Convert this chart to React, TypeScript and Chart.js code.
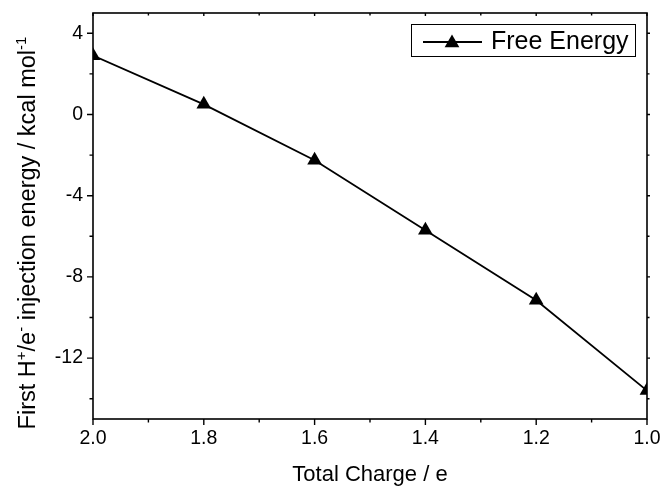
import React, { useEffect, useRef } from 'react';
import { Chart, registerables } from 'chart.js';

Chart.register(...registerables);

const totalCharge = [2.0, 1.8, 1.6, 1.4, 1.2, 1.0];
const freeEnergy = [2.9, 0.5, -2.25, -5.7, -9.15, -13.6];
const xMajorTicks = [2.0, 1.8, 1.6, 1.4, 1.2, 1.0];
const xMinorTicks = [1.9, 1.7, 1.5, 1.3, 1.1];
const yMajorTicks = [4, 0, -4, -8, -12];
const yMinorTicks = [2, -2, -6, -10, -14];
const seriesName = 'Free Energy';
const xAxisTitle = 'Total Charge / e';
const yAxisTitleParts = [
  { text: 'First H', sup: false },
  { text: '+', sup: true },
  { text: '/e', sup: false },
  { text: '-', sup: true },
  { text: ' injection energy / kcal mol', sup: false },
  { text: '-1', sup: true },
];

const FONT = '"Liberation Sans", Arial, Helvetica, sans-serif';

function drawTriangle(ctx: CanvasRenderingContext2D, x: number, y: number, r: number) {
  ctx.beginPath();
  for (let i = 0; i < 3; i++) {
    const ang = -Math.PI / 2 + (i * 2 * Math.PI) / 3;
    const px = x + Math.cos(ang) * r;
    const py = y + Math.sin(ang) * r;
    if (i === 0) ctx.moveTo(px, py);
    else ctx.lineTo(px, py);
  }
  ctx.closePath();
  ctx.fill();
}

const framePlugin = {
  id: 'originFrame',
  afterDatasetsDraw(chart: any) {
    const { ctx, chartArea: a } = chart;
    ctx.save();
    const left = a.right - 236;
    const top = a.top + 11;
    ctx.fillStyle = '#fff';
    ctx.fillRect(left, top, 224, 32);
    ctx.strokeStyle = '#000';
    ctx.lineWidth = 1;
    ctx.strokeRect(left + 0.5, top + 0.5, 224, 32);
    ctx.lineWidth = 1.8;
    ctx.beginPath();
    ctx.moveTo(left + 12, top + 18);
    ctx.lineTo(left + 71, top + 18);
    ctx.stroke();
    ctx.fillStyle = '#000';
    drawTriangle(ctx, left + 41, top + 19, 8.5);
    ctx.font = `25px ${FONT}`;
    ctx.textBaseline = 'alphabetic';
    ctx.textAlign = 'left';
    ctx.fillText(chart.data.datasets[0].label, left + 80, top + 25);
    ctx.restore();
  },
  afterDraw(chart: any) {
    const { ctx, chartArea: a, scales } = chart;
    const xs = scales.x;
    const ys = scales.y;
    ctx.save();
    ctx.strokeStyle = '#000';
    ctx.lineWidth = 1.6;
    ctx.strokeRect(a.left, a.top, a.right - a.left, a.bottom - a.top);
    ctx.lineWidth = 1.4;
    ctx.beginPath();
    const seg = (x1: number, y1: number, x2: number, y2: number) => {
      ctx.moveTo(x1, y1);
      ctx.lineTo(x2, y2);
    };
    xMajorTicks.forEach((v) => {
      const x = xs.getPixelForValue(v);
      seg(x, a.bottom, x, a.bottom + 6);
      seg(x, a.top, x, a.top + 3);
    });
    xMinorTicks.forEach((v) => {
      const x = xs.getPixelForValue(v);
      seg(x, a.bottom, x, a.bottom + 3.5);
      seg(x, a.top, x, a.top + 2.5);
    });
    yMajorTicks.forEach((v) => {
      const y = ys.getPixelForValue(v);
      seg(a.left - 6, y, a.left, y);
      seg(a.right, y, a.right + 3, y);
    });
    yMinorTicks.forEach((v) => {
      const y = ys.getPixelForValue(v);
      seg(a.left - 3.5, y, a.left, y);
      seg(a.right, y, a.right + 2.5, y);
    });
    ctx.stroke();

    // Y axis title with superscripts
    const mainFont = `23.5px ${FONT}`;
    const supFont = `15px ${FONT}`;
    let total = 0;
    yAxisTitleParts.forEach((p) => {
      ctx.font = p.sup ? supFont : mainFont;
      total += ctx.measureText(p.text).width;
    });
    ctx.translate(35, (a.top + a.bottom) / 2 + 17);
    ctx.rotate(-Math.PI / 2);
    ctx.fillStyle = '#000';
    ctx.textBaseline = 'alphabetic';
    ctx.textAlign = 'left';
    let u = -total / 2;
    yAxisTitleParts.forEach((p) => {
      ctx.font = p.sup ? supFont : mainFont;
      ctx.fillText(p.text, u, p.sup ? -9 : 0);
      u += ctx.measureText(p.text).width;
    });
    ctx.restore();
  },
};

export default function App() {
  const canvasRef = useRef<HTMLCanvasElement | null>(null);

  useEffect(() => {
    if (!canvasRef.current) return;
    const chart = new Chart(canvasRef.current, {
      type: 'line',
      data: {
        datasets: [
          {
            label: seriesName,
            data: totalCharge.map((x, i) => ({ x, y: freeEnergy[i] })),
            borderColor: '#000',
            backgroundColor: '#000',
            borderWidth: 1.8,
            pointStyle: 'triangle',
            pointRadius: 8.5,
            pointBackgroundColor: '#000',
            pointBorderColor: '#000',
            pointBorderWidth: 0,
            tension: 0,
            clip: 0,
          } as any,
        ],
      },
      options: {
        responsive: false,
        animation: false,
        layout: { padding: { left: 0, top: 13, right: 16, bottom: 0 } },
        plugins: {
          legend: { display: false },
          tooltip: { enabled: false },
        },
        scales: {
          x: {
            type: 'linear',
            reverse: true,
            min: 1.0,
            max: 2.0,
            afterBuildTicks: (scale: any) => {
              scale.ticks = xMajorTicks.map((v) => ({ value: v }));
            },
            afterFit: (scale: any) => {
              scale.height = 72;
              scale.paddingLeft = 0;
              scale.paddingRight = 0;
            },
            grid: { display: false, drawTicks: false },
            border: { display: false },
            ticks: {
              color: '#000',
              font: { family: FONT, size: 19.5 },
              padding: 8,
              maxRotation: 0,
              autoSkip: false,
              callback: (v: any) => Number(v).toFixed(1),
            },
            title: {
              display: true,
              text: xAxisTitle,
              color: '#000',
              font: { family: FONT, size: 22 },
              padding: { top: 0, bottom: 3 },
            },
          },
          y: {
            type: 'linear',
            min: -15,
            max: 5,
            afterBuildTicks: (scale: any) => {
              scale.ticks = yMajorTicks.map((v) => ({ value: v }));
            },
            afterFit: (scale: any) => {
              scale.width = 93;
              scale.paddingTop = 0;
              scale.paddingBottom = 0;
            },
            grid: { display: false, drawTicks: false },
            border: { display: false },
            ticks: {
              color: '#000',
              font: { family: FONT, size: 19.5 },
              padding: 10,
              autoSkip: false,
            },
          },
        },
      },
      plugins: [framePlugin],
    });
    return () => chart.destroy();
  }, []);

  return (
    <div style={{ position: 'absolute', left: 0, top: 0, width: 663, height: 491, background: '#fff' }}>
      <canvas ref={canvasRef} width={663} height={491} />
    </div>
  );
}
